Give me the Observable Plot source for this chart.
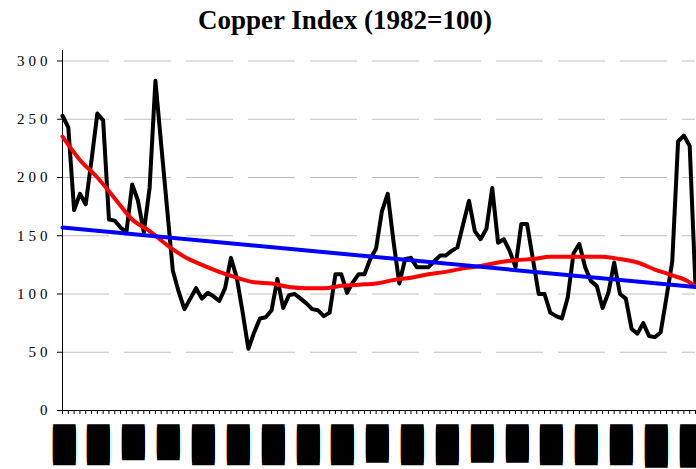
<!DOCTYPE html>
<html><head><meta charset="utf-8">
<script src="https://cdn.jsdelivr.net/npm/d3@7"></script>
<script src="https://cdn.jsdelivr.net/npm/@observablehq/plot@0.6"></script>
<style>
body{margin:0;background:#fff;}
#title{font:bold 27px "Liberation Serif",serif;text-align:center;height:40px;line-height:40px;width:690px;padding-top:0px;box-sizing:border-box;}
g[aria-label="y-axis tick label"] text{letter-spacing:4px;}
</style></head><body>
<div id="title">Copper Index (1982=100)</div>
<div id="chart"></div>
<script>
// Copper index, one value per period (black line)
const copperIndex = [
  253,243,172,186,177,215,255,249,164,163,
  157,153,194,180,153,191,283,228,174,120,
  102,87,96,105,96,101,98,94,105,131,
  114,85,53,67,79,80,86,113,88,99,
  100,96,92,87,86,81,84,117,117,101,
  110,117,117,130,139,171,186,145,109,130,
  131,123,123,123,128,133,133,137,140,160,
  180,154,147,156,191,144,147,137,123,160,
  160,130,100,100,84,81,79,97,135,143,
  123,111,107,88,101,127,100,96,70,66,
  75,64,63,67,97,128,231,236,227,106
];
// smoothed index (red line), read at every third period
const smoothIdx = [0,3,6,9,12,15,18,21,24,27,30,33,36,39,42,45,48,51,54,57,60,63,66,69,72,75,78,81,84,87,90,93,96,99,102,105,108,109];
const smoothVals = [235,215,200,182,164,154,142,132,125,119,114,110,109,106,105,105,107,108,109,112,114,117,119,122,124,127,129,130,132,132,132,132,130,127,121,116,110,106];
// linear trend (blue line)
const trendIdx = [0,109];
const trendVals = [157,106];
// axis ticks and category labels
const yTicks = [0,50,100,150,200,250,300];
const labelIdx = [0,6,12,18,24,30,36,42,48,54,60,66,72,78,84,90,96,102,108];
const tickLabels = [
  "█████████████","█████████████","███████████","███████████","█████████████",
  "█████████████","█████████████","█████████████","█████████████","████████████",
  "█████████████","█████████████","████████████","████████████","█████████████",
  "█████████████","█████████████","██████████████","██████████████"
];

const periods = copperIndex.map((_, i) => i);
const rows = copperIndex.map((v, i) => ({period: periods[i], value: v}));
const smoothRows = smoothIdx.map((p, i) => ({period: p, value: smoothVals[i]}));
const trendRows = trendIdx.map((p, i) => ({period: p, value: trendVals[i]}));
const labelRows = labelIdx.map((p, i) => ({period: p, label: tickLabels[i]}));

const chart = Plot.plot({
  width: 696, height: 429,
  marginTop: 10, marginBottom: 59, marginLeft: 62, marginRight: 1,
  x: {type: "linear", domain: [0, periods.length - 1]},
  y: {domain: [0, 309]},
  style: {background: "white", color: "black", fontFamily: "Liberation Serif"},
  marks: [
    Plot.ruleY(yTicks.filter(d => d > 0), {stroke: "#c0c0c0", strokeWidth: 1, strokeDasharray: "47,15"}),
    Plot.axisY({ticks: yTicks, tickSize: 5, tickPadding: 6, fontSize: 15, fontFamily: "Liberation Serif", label: null, tickFormat: d => String(d)}),
    Plot.axisX({ticks: periods, tickSize: 4, tickFormat: () => "", label: null}),
    Plot.text(labelRows, {x: "period", text: "label", frameAnchor: "bottom", dy: 23, dx: 2, rotate: -90, textAnchor: "end", lineAnchor: "middle", fontFamily: "DejaVu Sans Mono", fontSize: 19, fill: "black"}),
    Plot.ruleX([0], {stroke: "black", strokeWidth: 1}),
    Plot.ruleY([0], {stroke: "black", strokeWidth: 1}),
    Plot.line(rows, {x: "period", y: "value", stroke: "black", strokeWidth: 4, strokeLinejoin: "round"}),
    Plot.line(smoothRows, {x: "period", y: "value", stroke: "#ff0000", strokeWidth: 4, curve: "monotone-x"}),
    Plot.line(trendRows, {x: "period", y: "value", stroke: "#0000ff", strokeWidth: 4})
  ]
});
d3.select(chart).selectAll("text")
  .filter(function() { return this.textContent.indexOf("█") >= 0; })
  .style("letter-spacing", "-9px");
document.getElementById("chart").appendChild(chart);
</script>
</body></html>
